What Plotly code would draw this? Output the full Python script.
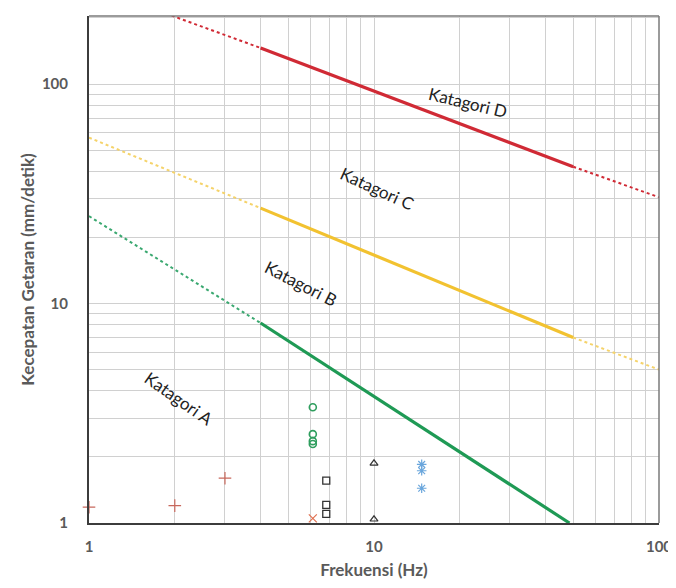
import plotly.graph_objects as go

# ---- data ----
# Category limit lines (frequency Hz, velocity mm/s), segment endpoints
d_dot1_x, d_dot1_y = [1.95, 4], [205, 146]
d_sol_x, d_sol_y = [4, 50], [146, 42]
d_dot2_x, d_dot2_y = [50, 100], [42, 30.5]

c_dot1_x, c_dot1_y = [1, 4], [57, 27.2]
c_sol_x, c_sol_y = [4, 50], [27.2, 7.0]
c_dot2_x, c_dot2_y = [50, 100], [7.0, 5.0]

a_dot_x, a_dot_y = [1, 4], [25, 8.15]
a_sol_x, a_sol_y = [4, 48.5], [8.15, 1.0]

# Measurement points
plus_x, plus_y = [1, 2, 3], [1.18, 1.2, 1.6]
xmark_x, xmark_y = [6.1], [1.05]
circ_x, circ_y = [6.1, 6.1, 6.1, 6.1], [3.37, 2.54, 2.36, 2.29]
sq_x, sq_y = [6.8, 6.8, 6.8], [1.56, 1.21, 1.10]
tri_x, tri_y = [10, 10], [1.87, 1.04]
ast_x, ast_y = [14.7, 14.7, 14.7], [1.85, 1.73, 1.44]

x_ticks = [1, 10, 100]
x_tick_text = ["1", "10", "100"]
y_ticks = [1, 10, 100]
y_tick_text = ["1", "10", "100"]
minor_vals = [m * 10 ** e for e in range(0, 3) for m in range(2, 10)]

labels = ["Katagori D", "Katagori C", "Katagori B", "Katagori A"]

RED = "#d02a35"
YEL = "#f2c230"
GRN = "#1f9a55"

fig = go.Figure()

def seg(x, y, color, width, dash):
    fig.add_trace(go.Scatter(x=x, y=y, mode="lines",
                             line=dict(color=color, width=width, dash=dash),
                             hoverinfo="skip", showlegend=False))

seg(d_dot1_x, d_dot1_y, RED, 2, "dot")
seg(d_sol_x, d_sol_y, RED, 3.2, "solid")
seg(d_dot2_x, d_dot2_y, RED, 2, "dot")
seg(c_dot1_x, c_dot1_y, "#f5d36a", 2, "dot")
seg(c_sol_x, c_sol_y, YEL, 3.2, "solid")
seg(c_dot2_x, c_dot2_y, "#f5d36a", 2, "dot")
seg(a_dot_x, a_dot_y, "#3aa870", 2, "dot")
seg(a_sol_x, a_sol_y, GRN, 3.2, "solid")

def pts(x, y, symbol, color, size, lw=1.2):
    fig.add_trace(go.Scatter(x=x, y=y, mode="markers",
                             marker=dict(symbol=symbol, size=size, color=color,
                                         line=dict(color=color, width=lw)),
                             cliponaxis=False, showlegend=False))

pts(plus_x, plus_y, "cross-thin", "#c8685c", 9)
pts(xmark_x, xmark_y, "x-thin", "#e07050", 8)
pts(circ_x, circ_y, "circle-open", "#2f9e5e", 7, 1.6)
pts(sq_x, sq_y, "square-open", "#333333", 7, 1.3)
pts(tri_x, tri_y, "triangle-up-open", "#333333", 7, 1.2)
pts(ast_x, ast_y, "asterisk-open", "#6aa6dc", 8, 1.2)

ann_pos = [(1.33, 1.918, 13.5), (1.011, 1.526, 24.5), (0.744, 1.093, 27), (0.316, 0.569, 35)]
for txt, (ax, ay, ang) in zip(labels, ann_pos):
    fig.add_annotation(x=ax, y=ay, xref="x", yref="y", text=txt, showarrow=False,
                       textangle=ang, font=dict(family="Lato", size=17, color="#222222"))

grid_col = "#d0d0d0"
tick_font = dict(family="Lato", size=15, color="#5a5a5a", weight="bold")
title_font = dict(family="Lato", size=17, color="#5a5a5a", weight="bold")

fig.update_xaxes(type="log", range=[0, 2], tickvals=x_ticks, ticktext=x_tick_text,
                 showgrid=True, gridcolor=grid_col, gridwidth=1,
                 minor=dict(tickvals=minor_vals, showgrid=True, gridcolor=grid_col, gridwidth=1, ticks=""),
                 showline=True, linecolor="#3c3c3c", linewidth=2, ticks="",
                 tickfont=tick_font, ticklabelstandoff=9, automargin=False,
                 ticklabeloverflow="allow",
                 title=dict(text="Frekuensi (Hz)", font=title_font, standoff=17),
                 zeroline=False)
fig.update_yaxes(type="log", range=[0, 2.31], tickvals=y_ticks, ticktext=y_tick_text,
                 showgrid=True, gridcolor=grid_col, gridwidth=1,
                 minor=dict(tickvals=minor_vals, showgrid=True, gridcolor=grid_col, gridwidth=1, ticks=""),
                 showline=True, linecolor="#3c3c3c", linewidth=2, ticks="",
                 tickfont=tick_font, ticklabelstandoff=16, automargin=False,
                 title=dict(text="Kecepatan Getaran (mm/detik)", font=title_font, standoff=3),
                 zeroline=False)

# top and right border
fig.add_shape(type="line", xref="paper", yref="paper", x0=0, x1=1, y0=1, y1=1,
              line=dict(color="#7a7a7a", width=1.5))
fig.add_shape(type="line", xref="paper", yref="paper", x0=1, x1=1, y0=0, y1=1,
              line=dict(color="#7a7a7a", width=1.5))

# page body has an 8px default margin: size the figure so the plot lands where the reference has it
fig.update_layout(width=668, height=572, margin=dict(l=81, r=17, t=8, b=57),
                  plot_bgcolor="white", paper_bgcolor="white", showlegend=False)

fig.write_html("out.html")
